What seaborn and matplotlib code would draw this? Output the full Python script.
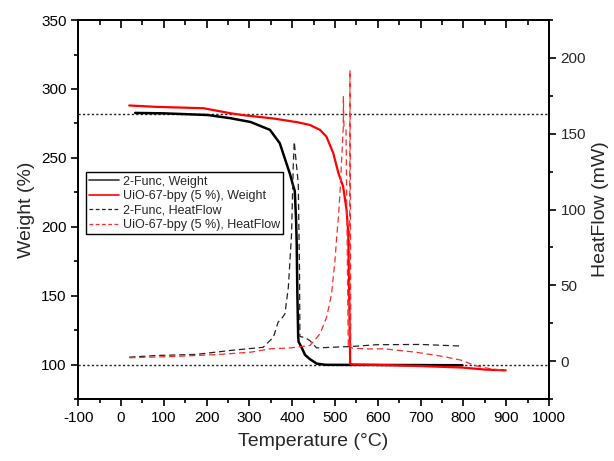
import numpy as np
import pandas as pd
import matplotlib
matplotlib.use("Agg")
import matplotlib.pyplot as plt
from matplotlib.ticker import MultipleLocator
from matplotlib.lines import Line2D
import seaborn as sns

sns.set_style("white")
plt.rcParams["font.family"] = ["Liberation Sans", "DejaVu Sans"]
plt.rcParams["axes.unicode_minus"] = False

# 2-Func: weight (%) vs temperature (°C)
func_w_temp = [33, 100, 202, 255, 303, 348, 371, 395, 402, 406, 409, 410.5, 412, 414, 415,
               422, 430, 441, 457, 478, 600, 700, 798]
func_w_val = [282.6, 282.3, 281.1, 278.8, 276.0, 270.3, 260.6, 238, 230, 226, 205, 188, 152,
              120, 116.5, 112.4, 107, 104, 100.7, 99.8, 99.7, 99.6, 99.5]

# UiO-67-bpy (5 %): weight (%) vs temperature (°C)
uio_w_temp = [19, 83, 193, 255, 285, 358, 413, 441, 465, 480, 496, 508, 519, 527, 531, 533,
              535, 535.5, 542, 633, 700, 798, 853, 899]
uio_w_val = [288, 287, 286, 282.4, 281, 278.5, 275.8, 273.9, 270.3, 265.4, 253.4, 238.9, 229.2,
             212.3, 195.4, 152, 113, 100.5, 100, 99.5, 98.9, 97.8, 96.3, 95.8]

# 2-Func: heat flow (mW) vs temperature (°C)
func_h_temp = [19, 83, 175, 255, 332, 356, 367, 375, 383, 391, 398.5, 402.4, 404.8, 410.4,
               414.2, 417, 418, 430, 441, 457, 542, 597, 698, 798]
func_h_val = [2.6, 3.7, 4.4, 7.0, 9.1, 15.7, 25.7, 27.9, 31.2, 48.8, 84, 128, 144.7, 128,
              117, 60, 16.2, 15.5, 13.6, 8.7, 9.7, 10.8, 11.0, 9.9]

# UiO-67-bpy (5 %): heat flow (mW) vs temperature (°C)
uio_h_temp = [19, 129, 230, 303, 349, 395, 441.5, 465, 480.5, 492, 500, 504, 508, 511.6,
              515.5, 519.4, 519.6, 521, 525.7, 531, 534, 535, 537, 542, 582, 615, 688, 752,
              798, 826, 862, 899]
uio_h_val = [2.2, 3.1, 4.4, 5.9, 8.1, 8.7, 10.3, 18, 29, 44.4, 66.5, 81.9, 95.1, 110.6,
             132.6, 154.6, 174.5, 154.6, 153.6, 9.1, 9.1, 192, 9.0, 8.5, 8, 8.1, 5.9, 3.1,
             0.4, -2.9, -5.0, -6.2]

labels = ["2-Func, Weight", "UiO-67-bpy (5 %), Weight",
          "2-Func, HeatFlow", "UiO-67-bpy (5 %), HeatFlow"]

rect = [0.1275, 0.1345, 0.7665, 0.822]
fig = plt.figure(figsize=(6.14, 4.61), dpi=100)
ax = fig.add_axes(rect)
ax2 = ax.twinx()

# reference lines on the weight axis
for yref in (282, 100):
    ax.axhline(yref, color="#222222", lw=1.0, ls=(0, (1.6, 1.6)), zorder=1)

sns.lineplot(x=func_w_temp, y=func_w_val, ax=ax, color="black", lw=1.8,
             sort=False, estimator=None, zorder=3)
sns.lineplot(x=uio_w_temp, y=uio_w_val, ax=ax, color="#ff0000", lw=1.6,
             sort=False, estimator=None, zorder=3)
sns.lineplot(x=func_h_temp, y=func_h_val, ax=ax2, color="#222222", lw=0.9,
             sort=False, estimator=None)
sns.lineplot(x=uio_h_temp, y=uio_h_val, ax=ax2, color="#ff2a2a", lw=0.9,
             sort=False, estimator=None)
for ln in ax2.get_lines():
    ln.set_linestyle((0, (5, 3)))

ax.set_xlim(-100, 1000)
ax.set_ylim(75, 350)
ax2.set_ylim(-25, 225)

ax.xaxis.set_major_locator(MultipleLocator(100))
ax.xaxis.set_minor_locator(MultipleLocator(50))
for a in (ax, ax2):
    a.yaxis.set_major_locator(MultipleLocator(50))
    a.yaxis.set_minor_locator(MultipleLocator(25))

ax.tick_params(axis="both", which="major", direction="out", length=5, width=1.2,
               labelsize=11, color="black", labelcolor="black")
ax.tick_params(axis="both", which="minor", direction="out", length=3, width=1.2,
               color="black")
ax.tick_params(axis="x", which="both", bottom=True, top=False)
ax.tick_params(axis="y", which="both", left=True, right=False)
ax2.tick_params(axis="y", which="major", direction="out", length=5, width=1.2,
                labelsize=11, right=True, color="black")
ax2.tick_params(axis="y", which="minor", direction="out", length=3, width=1.2,
                right=True, color="black")

for a in (ax, ax2):
    for sp in a.spines.values():
        sp.set_visible(True)
        sp.set_color("black")
        sp.set_linewidth(1.3)

# overlay axes that only carries inward ticks along the top edge
with plt.rc_context({"xtick.top": True, "xtick.bottom": False,
                     "xtick.labeltop": False, "xtick.labelbottom": False,
                     "xtick.direction": "in", "xtick.color": "black",
                     "xtick.major.size": 6, "xtick.minor.size": 3.5,
                     "xtick.major.width": 1.2, "xtick.minor.width": 1.2,
                     "xtick.minor.visible": True}):
    ax3 = fig.add_axes(rect, sharex=ax, frameon=False)
ax3.set_zorder(10)
ax3.patch.set_visible(False)
ax3.yaxis.set_visible(False)
ax3.tick_params(axis="x", which="both", bottom=False, labelbottom=False,
                top=True, labeltop=False, direction="in", color="black")
ax3.tick_params(axis="x", which="major", length=6, width=1.2)
ax3.tick_params(axis="x", which="minor", length=3.5, width=1.2)

ax.set_xlabel("Temperature (°C)", fontsize=14, labelpad=6)
ax.set_ylabel("Weight (%)", fontsize=14, labelpad=4)
ax2.set_ylabel("HeatFlow (mW)", fontsize=14, labelpad=4)

handles = [
    Line2D([], [], color="#333333", lw=1.2),
    Line2D([], [], color="#ff0000", lw=1.2),
    Line2D([], [], color="#222222", lw=0.9, ls=(0, (3, 2))),
    Line2D([], [], color="#ff2a2a", lw=0.9, ls=(0, (3, 2))),
]
leg = ax3.legend(handles, labels, loc="upper left", bbox_to_anchor=(0.0157, 0.598),
                 borderaxespad=0, fontsize=9, frameon=True, fancybox=False,
                 edgecolor="black", framealpha=1, handlelength=2.4,
                 handletextpad=0.3, labelspacing=0.2, borderpad=0.25)
leg.get_frame().set_linewidth(1.0)

fig.savefig("out.png", dpi=100)
